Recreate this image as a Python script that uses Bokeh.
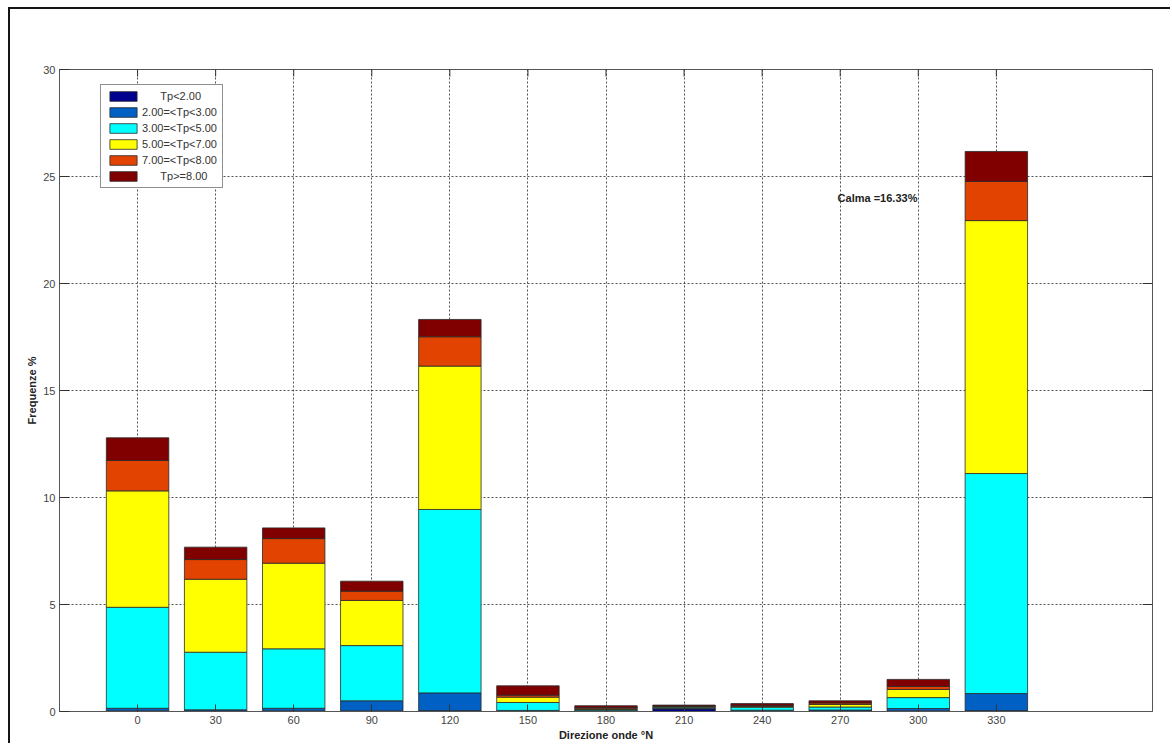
from bokeh.plotting import figure
from bokeh.models import (ColumnDataSource, FixedTicker, Legend, LegendItem,
                          Label, Range1d)
from bokeh.embed import file_html
from bokeh.resources import INLINE

# Wave direction sectors (°N) and frequency (%) per peak-period class
directions = [0, 30, 60, 90, 120, 150, 180, 210, 240, 270, 300, 330]
tp_lt2 = [0.03, 0.02, 0.03, 0.03, 0.04, 0.01, 0.01, 0.12, 0.02, 0.02, 0.03, 0.04]
tp_2_3 = [0.12, 0.06, 0.12, 0.47, 0.83, 0.04, 0.03, 0.03, 0.04, 0.05, 0.11, 0.80]
tp_3_5 = [4.72, 2.69, 2.78, 2.58, 8.57, 0.37, 0.05, 0.05, 0.14, 0.14, 0.51, 10.28]
tp_5_7 = [5.44, 3.41, 4.00, 2.11, 6.70, 0.25, 0.04, 0.03, 0.03, 0.12, 0.38, 11.82]
tp_7_8 = [1.42, 0.92, 1.15, 0.43, 1.37, 0.09, 0.05, 0.03, 0.05, 0.07, 0.14, 1.83]
tp_ge8 = [1.06, 0.58, 0.50, 0.47, 0.81, 0.44, 0.09, 0.04, 0.09, 0.10, 0.33, 1.40]

class_labels = ["Tp<2.00", "2.00=<Tp<3.00", "3.00=<Tp<5.00",
                "5.00=<Tp<7.00", "7.00=<Tp<8.00", "Tp>=8.00"]
class_colors = ["#00008F", "#0060C4", "#00FFFF", "#FFFF00", "#E24300", "#800000"]
y_ticks = [0, 5, 10, 15, 20, 25, 30]
calm_text = "Calma =16.33%"

X_MIN, X_MAX = -30, 390
Y_MIN, Y_MAX = 0, 30

keys = ["c1", "c2", "c3", "c4", "c5", "c6"]
source = ColumnDataSource(dict(dir=directions, c1=tp_lt2, c2=tp_2_3, c3=tp_3_5,
                               c4=tp_5_7, c5=tp_7_8, c6=tp_ge8))

FONT = "Liberation Sans"

p = figure(width=1162, height=736, output_backend="svg", toolbar_location=None,
           x_range=Range1d(X_MIN, X_MAX), y_range=Range1d(Y_MIN, Y_MAX),
           min_border_left=49, min_border_right=20, min_border_top=60,
           min_border_bottom=34)
p.styles = {"border-left": "2px solid #151515", "border-top": "2px solid #151515",
            "margin-left": "8px", "margin-top": "7px"}
p.background_fill_color = "white"
p.border_fill_color = "white"
p.outline_line_color = "#555555"
p.outline_line_width = 1

renderers = p.vbar_stack(keys, x="dir", width=24, source=source,
                         fill_color=class_colors, line_color="#2a2a2a",
                         line_width=0.8)

# axes
xt = FixedTicker(ticks=directions)
yt = FixedTicker(ticks=y_ticks)
p.xaxis.ticker = xt
p.yaxis.ticker = yt
p.xgrid.ticker = xt
p.ygrid.ticker = yt

for ax in (p.xaxis[0], p.yaxis[0]):
    ax.axis_line_color = "#555555"
    ax.major_tick_line_color = "#333333"
    ax.minor_tick_line_color = None
    ax.major_tick_out = 0
    ax.major_label_text_font = FONT
    ax.major_label_text_font_size = "11px"
    ax.major_label_text_color = "#444444"
    ax.major_label_standoff = 4
    ax.axis_label_text_font = FONT
    ax.axis_label_text_font_size = "11px"
    ax.axis_label_text_font_style = "bold"
    ax.axis_label_text_color = "#222222"
    ax.axis_label_standoff = 2
p.xaxis.major_tick_in = 7
p.yaxis.major_tick_in = 10
p.xaxis.axis_label = "Direzione onde °N"
p.yaxis.axis_label = "Frequenze %"

# inward tick marks on the top and right sides of the box
x_tick_len = 0.33   # in y units (~7 px)
y_tick_len = 3.8    # in x units (~10 px)
p.segment(x0=directions, y0=[Y_MAX] * len(directions),
          x1=directions, y1=[Y_MAX - x_tick_len] * len(directions),
          line_color="#333333", line_width=1)
p.segment(x0=[X_MAX] * len(y_ticks), y0=y_ticks,
          x1=[X_MAX - y_tick_len] * len(y_ticks), y1=y_ticks,
          line_color="#333333", line_width=1)

p.grid.grid_line_color = "#333333"
p.grid.grid_line_dash = "2 2"
p.grid.grid_line_width = 1
p.grid.grid_line_alpha = 0.85

# legend
pad = "\u00a0" * 6
shown = [pad + class_labels[0], class_labels[1], class_labels[2],
         class_labels[3], class_labels[4], pad + class_labels[5]]
items = [LegendItem(label=lab, renderers=[r]) for lab, r in zip(shown, renderers)]
legend = Legend(items=items, location=(41, 523))
legend.label_text_font = FONT
legend.label_text_font_size = "11px"
legend.label_text_color = "#333333"
legend.glyph_width = 34
legend.glyph_height = 12
legend.label_height = 12
legend.label_standoff = 2
legend.spacing = 4
legend.padding = 5
legend.margin = 0
legend.border_line_color = "#222222"
legend.border_line_width = 1
legend.background_fill_color = "white"
legend.background_fill_alpha = 1
p.add_layout(legend)

p.add_layout(Label(x=269, y=24, text=calm_text, text_font=FONT,
                   text_font_size="11px", text_font_style="bold",
                   text_color="#222222", text_baseline="middle"))

open("out.html", "w").write(file_html(p, INLINE))
